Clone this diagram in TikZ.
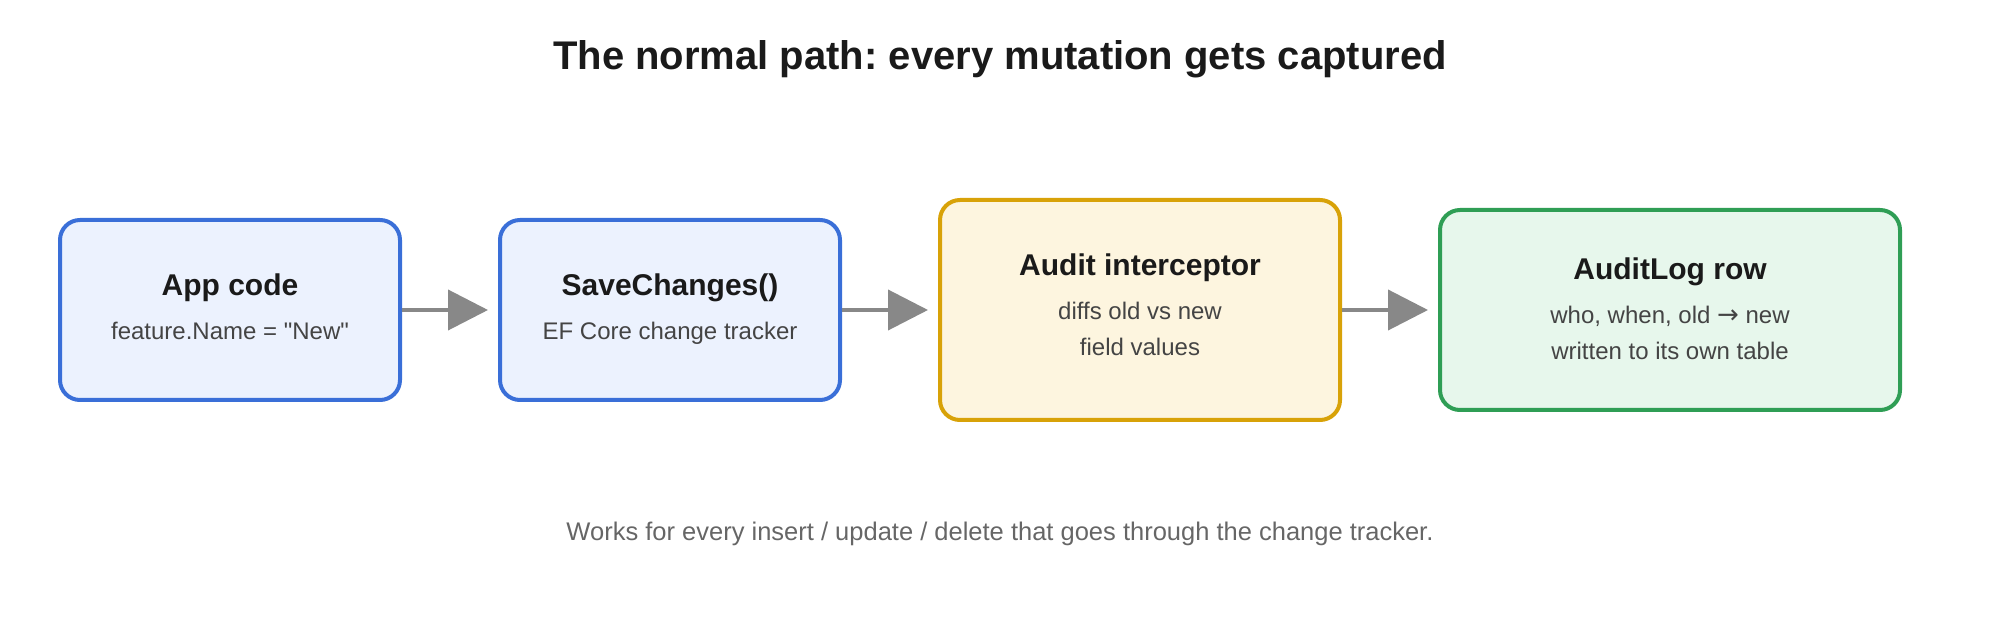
\documentclass[tikz,border=0pt]{standalone}
\usepackage{fontspec}
\setmainfont{Liberation Sans}[Ligatures=TeXOff]
\newfontfamily\arrowfont{DejaVu Sans}
\usepackage{xcolor}
\usepackage{tikz}
\usetikzlibrary{arrows.meta}
\definecolor{BlueLine}{HTML}{3A6FD8}
\definecolor{BlueFill}{HTML}{ECF2FE}
\definecolor{GoldLine}{HTML}{D8A208}
\definecolor{GoldFill}{HTML}{FDF5DF}
\definecolor{GreenLine}{HTML}{2F9E55}
\definecolor{GreenFill}{HTML}{E7F7EC}
\definecolor{Ink}{HTML}{1A1A1A}
\definecolor{Body}{HTML}{444444}
\definecolor{Note}{HTML}{666666}
\definecolor{Wire}{HTML}{888888}
\frenchspacing

\begin{document}
\begin{tikzpicture}[x=1pt,y=-1pt,
  box/.style={draw=#1Line,fill=#1Fill,line width=2pt,rounded corners=10pt,inner sep=0pt},
  head/.style={anchor=base,text=Ink,font=\fontsize{15}{18}\selectfont\bfseries},
  sub/.style={anchor=base,text=Body,font=\fontsize{12}{14}\selectfont},
  flow/.style={-{Triangle[length=20pt,width=20pt]},line width=2pt,Wire,shorten >=5pt}]
  \useasboundingbox (0,0) rectangle (1000,320);
  \node[anchor=base,text=Ink,font=\fontsize{20}{24}\selectfont\bfseries] (title) at (500,35)
    {The normal path: every mutation gets captured};

  % the four stages
  \node[box=Blue,minimum width=170pt,minimum height=90pt] (app) at (115,155) {};
  \node[box=Blue,minimum width=170pt,minimum height=90pt] (save) at (335,155) {};
  \node[box=Gold,minimum width=200pt,minimum height=110pt] (audit) at (570,155) {};
  \node[box=Green,minimum width=230pt,minimum height=100pt] (log) at (835,155) {};

  \node[head] (appT) at (115,148) {App code};
  \node[sub] (appS) at (115,170) {feature.Name = "New"};
  \node[head] (saveT) at (335,148) {SaveChanges()};
  \node[sub] (saveS) at (335,170) {EF Core change tracker};
  \node[head] (auditT) at (570,138) {Audit interceptor};
  \node[sub] (auditS) at (570,160) {diffs old vs new};
  \node[sub] (auditS2) at (570,178) {field values};
  \node[head] (logT) at (835,140) {AuditLog row};
  \node[sub] (logS) at (835,162) {who, when, old {\arrowfont\fontsize{13}{14}\selectfont →} new};
  \node[sub] (logS2) at (835,180) {written to its own table};

  \draw[flow] (app.east) -- (save.west);
  \draw[flow] (save.east) -- (audit.west);
  \draw[flow] (audit.east) -- (log.west);

  \node[anchor=base,text=Note,font=\fontsize{12.75}{16}\selectfont] (note) at (500,270)
    {Works for every insert / update / delete that goes through the change tracker.};
\end{tikzpicture}
\end{document}
